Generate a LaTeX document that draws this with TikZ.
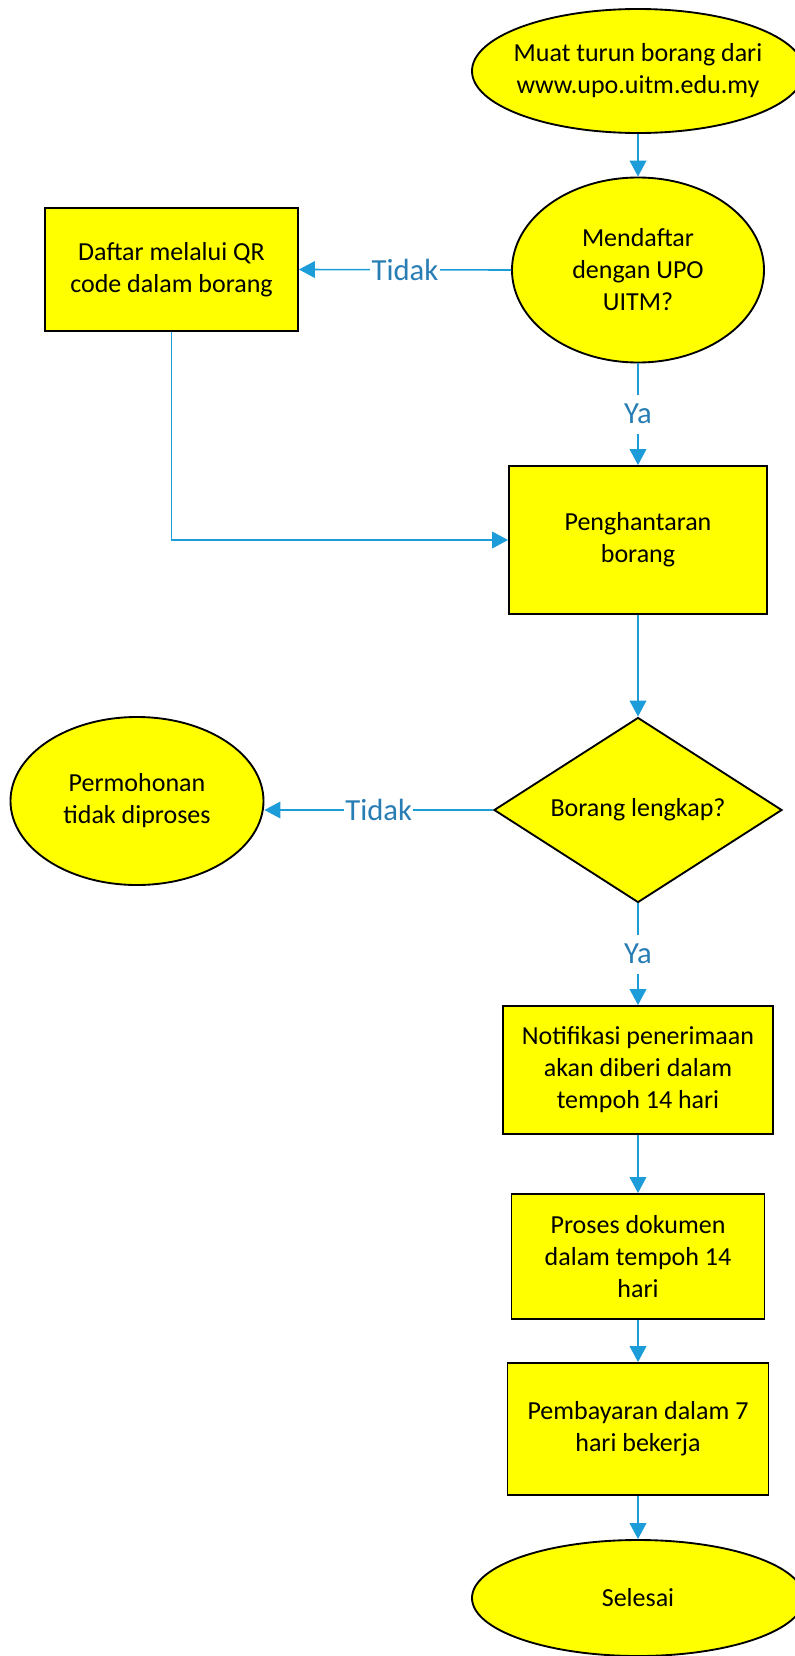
\documentclass[tikz,border=0pt]{standalone}
\usepackage{fontspec}
\setmainfont{Carlito}
\usetikzlibrary{shapes.geometric,arrows.meta}
\definecolor{fillY}{RGB}{255,255,0}
\definecolor{connC}{RGB}{28,156,216}
\definecolor{lblC}{RGB}{40,125,180}
\newcommand\nodefont{\fontsize{19.5}{24}\selectfont}
\newcommand\labfont{\fontsize{23}{28}\selectfont}
\tikzset{
  ellnode/.style={ellipse, draw=black, fill=fillY, line width=1.4pt, inner sep=0pt},
  boxnode/.style={rectangle, draw=black, fill=fillY, line width=1.4pt, align=center, font=\nodefont, inner sep=0pt},
  dianode/.style={diamond, draw=black, fill=fillY, line width=1.4pt, align=center, font=\nodefont, inner sep=1pt, shape aspect=1.557},
  ctext/.style={font=\nodefont, align=center},
  conn/.style={draw=connC, line width=1.2pt, -{Triangle[length=12pt,width=12.5pt]}},
  lab/.style={fill=white, text=lblC, font=\labfont, inner xsep=1pt, inner ysep=7pt}
}
\begin{document}
\begin{tikzpicture}[x=0.75pt,y=-0.75pt]
\useasboundingbox (0,0) rectangle (795,1656);
\node[ellnode, minimum width=249pt, minimum height=93pt,
  label={[ctext]center:{Muat turun borang dari\\www.upo.uitm.edu.my}}] (e1) at (638,71) {};
\node[ellnode, minimum width=189pt, minimum height=138.75pt,
  label={[ctext]center:{Mendaftar\\dengan UPO\\UITM?}}] (e2) at (638,270) {};
\node[boxnode, minimum width=189.75pt, minimum height=92.25pt] (daftar) at (171.5,269.5) {Daftar melalui QR\\code dalam borang};
\node[boxnode, minimum width=193.5pt, minimum height=111pt] (peng) at (638,540) {Penghantaran\\borang};
\node[dianode, minimum width=216pt, minimum height=138.75pt] (dia) at (638,810) {Borang lengkap?};
\node[ellnode, minimum width=189.75pt, minimum height=126pt,
  label={[ctext]center:{Permohonan\\tidak diproses}}] (perm) at (137,801) {};
\node[boxnode, minimum width=202.5pt, minimum height=96pt] (notif) at (638,1070) {Notifikasi penerimaan\\akan diberi dalam\\tempoh 14 hari};
\node[boxnode, minimum width=189.75pt, minimum height=93.75pt] (proses) at (638,1256.5) {Proses dokumen\\dalam tempoh 14\\hari};
\node[boxnode, minimum width=195.75pt, minimum height=99pt] (pemb) at (638,1429) {Pembayaran dalam 7\\hari bekerja};
\node[ellnode, minimum width=249pt, minimum height=87pt,
  label={[ctext]center:{Selesai}}] (sel) at (638,1598) {};

\draw[conn] (e1.south) -- (e2.north);
\draw[conn] (e2.west) -- node[lab]{Tidak} (daftar.east);
\draw[conn] (e2.south) -- node[lab]{Ya} (peng.north);
\draw[conn] (daftar.south) |- (peng.west);
\draw[conn] (peng.south) -- (dia.north);
\draw[conn] (dia.west) -- node[lab]{Tidak} (dia.west -| perm.east);
\draw[conn] (dia.south) -- node[lab]{Ya} (notif.north);
\draw[conn] (notif.south) -- (proses.north);
\draw[conn] (proses.south) -- (pemb.north);
\draw[conn] (pemb.south) -- (sel.north);
\end{tikzpicture}
\end{document}
